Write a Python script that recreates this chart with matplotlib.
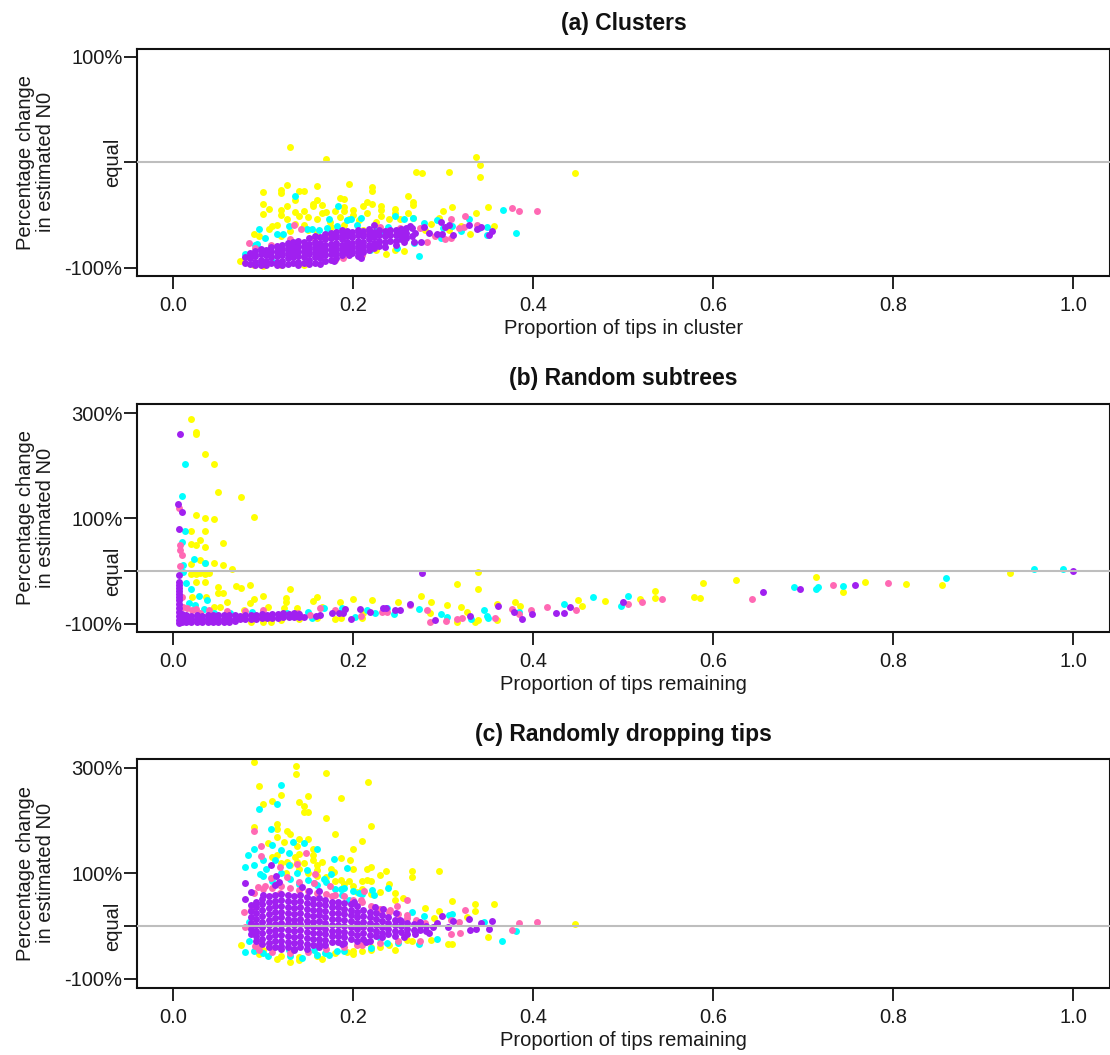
import matplotlib
matplotlib.use("Agg")
import matplotlib.pyplot as plt
from matplotlib.transforms import blended_transform_factory

plt.rcParams['font.family'] = ['Liberation Sans', 'DejaVu Sans']

YELLOW = '#FFFF00'
CYAN = '#00FFFF'
PINK = '#FF69B4'
PURPLE = '#A020F0'

# ---------------- (a) Clusters ----------------
a_yellow_x = [.130,.170,.270,.276,.306,.336,.341,.341,.446,.100,.100,.106,.100,.120,.120,.126,.126,.120,.120,.140,.145,.135,.160,.155,.155,.160,.165,.195,.221,.221,.185,.190,.211,.215,.221,.231,.231,.261,.266,.266,.246,.246,.261,.300,.310,.336,.350,.135,.145,.140,.150,.165,.170,.180,.190,.190,.200,.200,.215,.231,.185,.195,.206,.160,.126,.115,.110,.106,.089,.095,.135,.145,.174,.190,.225,.240,.252,.266,.295,.356,.330,.074,.100,.145,.089,.236,.256,.246,.225,.120,.286,.306,.150,.175,.211,.130,.160,.120,.320,.280]
a_yellow_y = [15,3,-9,-10,-9,5,-2,-14,-10,-28,-39,-44,-49,-26,-29,-21,-41,-45,-50,-27,-27,-36,-22,-39,-41,-36,-40,-20,-23,-27,-34,-35,-41,-37,-39,-41,-45,-32,-37,-40,-44,-48,-48,-46,-42,-48,-42,-47,-46,-51,-52,-48,-47,-46,-42,-46,-45,-50,-48,-51,-52,-54,-55,-54,-54,-59,-60,-63,-68,-70,-58,-59,-56,-59,-56,-54,-54,-53,-53,-60,-68,-93,-98,-97,-97,-87,-84,-83,-83,-97,-58,-64,-64,-61,-64,-65,-66,-70,-60,-64]

a_cyan_x = [.135,.183,.173,.193,.197,.208,.246,.256,.266,.095,.366,.381,.273,.278,.293,.328,.348,.348,.154,.149,.162,.171,.182,.204,.128,.115,.122,.102,.091,.080,.267,.297,.219,.249,.238,.226,.097,.111,.137,.093,.170,.190,.210,.230,.250,.310,.320,.340,.300]
a_cyan_y = [-32,-41,-54,-55,-54,-53,-51,-54,-53,-63,-45,-67,-89,-57,-55,-54,-61,-69,-63,-63,-64,-62,-60,-59,-60,-68,-68,-72,-78,-87,-76,-72,-83,-81,-61,-62,-95,-94,-75,-77,-68,-66,-66,-68,-70,-60,-65,-62,-62]

a_pink_x = [.084,.134,.142,.376,.384,.404,.324,.309,.317,.308,.302,.291,.282,.252,.239,.230,.189,.193,.211,.189,.174,.156,.130,.108,.091,.086,.337,.323,.274,.150,.180,.210]
a_pink_y = [-76,-59,-63,-43,-46,-46,-51,-54,-62,-72,-73,-70,-75,-62,-65,-61,-91,-86,-67,-67,-70,-72,-73,-78,-81,-89,-59,-61,-62,-95,-92,-88]

a_purple_x = [.223,.263,.278,.297,.302,.306,.284,.293,.299,.311,.329,.337,.342,.354,.351,.269,.275,.267,.256,.195,.208,.179]
a_purple_y = [-59,-60,-61,-56,-61,-59,-67,-68,-68,-69,-59,-63,-61,-65,-69,-67,-75,-75,-75,-88,-91,-93]
# the thick band, column by column
a_band_x = [.079,.085,.091,.097,.103,.109,.115,.121,.127,.133,.139,.145,.151,.157,.163,.169,.175,.181,.187,.193,.199,.205,.211,.217,.223,.229,.235,.241,.247,.253,.259,.265]
a_band_y = [[-90,-95],[-86,-91,-96],[-84,-89,-94,-97],[-82,-87,-92,-97],[-83,-88,-93,-97],[-80,-85,-90,-95],[-79,-84,-89,-94,-97],[-78,-83,-88,-93,-97],[-76,-81,-86,-91,-96],[-75,-80,-85,-90,-95],[-74,-79,-84,-89,-94,-97],[-75,-80,-85,-90,-95],[-72,-77,-82,-87,-92,-96],[-70,-75,-80,-85,-90,-95],[-71,-76,-81,-86,-91,-96],[-68,-73,-78,-83,-88,-93],[-67,-72,-77,-82,-87,-92],[-66,-71,-76,-81,-86,-91],[-64,-69,-73,-78,-83,-88],[-65,-70,-75,-80,-85],[-66,-71,-76,-81,-86],[-64,-69,-74,-79,-84,-89],[-65,-70,-75,-80,-85],[-63,-68,-73,-78,-83],[-66,-71,-76,-81],[-64,-69,-74,-79],[-65,-70,-75,-80],[-64,-69,-74],[-64,-69,-74,-78],[-63,-68,-73],[-62,-67,-72],[-62,-70]]

# ---------------- (b) Random subtrees ----------------
b_yellow_x = [.020,.025,.025,.035,.045,.050,.075,.025,.035,.045,.090,.020,.035,.030,.055,.020,.025,.035,.020,.030,.035,.045,.055,.065,.020,.025,.030,.035,.040,.035,.025,.070,.075,.085,.050,.050,.055,.100,.130,.085,.090,.125,.125,.105,.155,.160,.185,.200,.221,.250,.275,.286,.021,.036,.045,.060,.052,.078,.123,.137,.165,.186,.211,.086,.108,.180,.210,
 .315,.339,.339,.304,.320,.326,.285,.339,.335,.360,.360,.380,.385,.450,.454,.480,.519,.535,.535,.579,.585,.589,.625,.714,.744,.769,.814,.854,.930,.315,.100,.120,.140,.160]
b_yellow_y = [289,265,260,223,203,151,141,107,101,99,103,77,77,59,53,52,49,46,13,20,16,15,11,4,-6,-6,-4,-6,-4,-20,-20,-28,-32,-26,-31,-42,-42,-47,-34,-61,-53,-51,-58,-68,-57,-50,-59,-53,-55,-59,-47,-59,-49,-49,-68,-58,-68,-75,-71,-71,-68,-90,-80,-96,-96,-92,-90,
 -25,-2,-35,-64,-68,-77,-79,-93,-97,-93,-63,-58,-66,-56,-66,-57,-53,-38,-52,-50,-52,-23,-18,-12,-40,-21,-25,-26,-4,-97,-96,-94,-92,-90]

b_cyan_x = [.013,.010,.013,.010,.023,.035,.011,.011,.014,.019,.028,.037,.017,.034,.024,.087,.126,.150,.167,.187,.215,.237,.245,.273,.063,.045,.154,.202,.224,
 .297,.304,.331,.345,.348,.350,.384,.434,.466,.497,.505,.690,.714,.717,.744,.859,.957,.989]
b_cyan_y = [204,143,76,56,22,15,12,-1,-22,-35,-47,-56,-61,-72,-65,-77,-80,-77,-71,-71,-74,-71,-82,-73,-80,-80,-90,-87,-80,
 -82,-87,-91,-74,-85,-89,-77,-63,-50,-67,-47,-31,-35,-31,-29,-13,4,4]

b_pink_x = [.007,.007,.010,.007,.006,.010,.021,.011,.030,.163,.180,.208,.152,.232,.263,.282,.139,.093,.237,.015,.025,.040,.060,.080,.100,
 .303,.315,.321,.357,.376,.384,.398,.415,.448,.505,.521,.543,.643,.733,.794,.285]
b_pink_y = [49,40,31,10,119,-49,-74,-68,-80,-71,-74,-85,-84,-77,-65,-74,-80,-87,-77,-70,-72,-74,-76,-76,-75,
 -95,-91,-89,-89,-72,-81,-75,-68,-74,-63,-59,-53,-54,-26,-23,-97]

b_purple_x = [.007,.005,.009,.006,.276,.263,.252,.246,.236,.233,.219,.207,.191,.197,.189,.184,.176,.163,.158,.145,
 .291,.330,.361,.379,.388,.399,.425,.434,.441,.500,.655,.697,.758,1.000]
b_purple_y = [261,127,113,80,-4,-63,-74,-75,-71,-71,-77,-72,-73,-91,-79,-80,-80,-84,-85,-87,
 -93,-85,-67,-77,-91,-81,-80,-79,-68,-58,-39,-35,-26,0]
b_band_x = [.006,.010,.014,.020,.026,.032,.038,.044,.050,.056,.062,.068,.074,.080,.086,.092,.098,.104,.110,.116,.122,.128,.134,.140]
b_band_y = [[-8,-20,-26,-32,-38,-44,-50,-56,-62,-70,-78,-86,-94,-98],[-82,-90,-97],[-84,-91,-97],[-85,-92,-97],[-84,-91,-97],[-85,-92,-97],[-83,-91,-97],[-84,-92,-97],[-84,-92,-96],[-83,-91,-96],[-84,-92,-96],[-83,-91,-95],[-85,-92],[-84,-91],[-84,-92],[-84,-91],[-82,-90],[-83,-90],[-81,-89],[-82,-89],[-80,-88],[-81,-88],[-80,-87],[-81,-87]]

# ---------------- (c) Randomly dropping tips ----------------
c_yellow_x = [.090,.136,.136,.170,.216,.095,.120,.150,.110,.100,.140,.145,.150,.145,.186,.170,.220,.180,.090,.115,.115,.126,.130,.115,.140,.150,.210,.200,.105,.123,.137,.140,.155,.155,.115,.155,.165,.186,.196,.200,.215,.220,.230,.236,.265,.265,.295,.210,.215,.220,.240,.230,.246,.255,.246,.280,.310,.335,.335,.356,.295,.290,.326,.446,.075,.095,.115,.130,.140,.165,.200,.210,.220,.230,.246,.265,.286,.305,.310,.350,.160,.175,.186,.195,.178,.189,.204,.137,.126,.160,.193,
 .110,.120,.130,.140,.150,.160,.170,.180,.190,.200,.210,.220,.125,.135,.145,.160,.100,.120,.140,.160,.180,.200,.220,.240,.260]
c_yellow_y = [312,303,288,290,274,266,249,246,237,232,235,228,217,217,242,204,190,175,187,194,184,180,174,168,165,165,161,147,157,160,151,137,146,135,135,125,122,129,126,108,109,111,97,104,104,92,104,85,87,85,80,64,63,53,49,34,48,42,28,41,28,15,16,4,-36,-53,-63,-69,-65,-63,-53,-47,-46,-41,-46,-28,-27,-34,-34,-22,106,109,87,85,103,72,65,122,122,-55,-49,
 130,120,115,108,100,95,92,85,80,75,70,60,100,130,120,115,-45,-58,-60,-58,-52,-48,-40,-36,-26]

c_cyan_x = [.120,.115,.095,.108,.133,.145,.160,.090,.083,.100,.090,.080,.096,.103,.110,.120,.128,.113,.128,.137,.149,.178,.193,.175,.167,.156,.186,.221,.223,.238,.206,.187,.195,.237,.250,.273,.293,.365,.381,.278,.265,.306,.310,.345,.084,.084,.080,.090,.105,.128,.143,.173,.169,.182,.156,.230,
 .120,.130,.140,.150,.160,.170,.180,.190,.200,.210,.100,.110,.100,.130,.160,.190,.220]
c_cyan_y = [268,231,222,184,159,158,147,147,135,125,116,111,98,108,153,144,139,125,116,100,106,128,110,98,89,81,70,69,58,72,62,59,49,-33,-33,-34,-25,-28,-10,18,27,21,23,8,8,-28,-49,-47,-58,-46,-61,-55,-52,-47,-46,-23,
 100,90,80,88,78,84,70,72,66,60,95,85,-52,-58,-56,-48,-42]

c_pink_x = [.090,.097,.097,.147,.137,.157,.156,.119,.109,.126,.140,.174,.094,.102,.212,.260,.324,.384,.404,.376,.319,.309,.078,.086,.080,.091,.204,.274,.260,.249,.241,.208,.176,.119,.094,.308,.317,
 .090,.100,.110,.120,.130,.140,.150,.160,.170,.180,.190,.200,.210,.220,.230,.240,.250,.260,.270,.280,.095,.110,.130,.150,.170,.190,.210,.230,.250]
c_pink_y = [180,151,132,138,117,98,81,112,91,92,84,75,73,75,66,49,31,5,8,-8,-14,-16,26,30,-3,-39,-36,-28,21,37,30,49,56,62,-36,11,8,
 62,70,72,75,72,68,66,62,60,58,56,50,45,38,32,26,22,15,12,5,-45,-50,-52,-50,-44,-40,-36,-32,-28]

c_purple_x = [.109,.079,.114,.117,.113,.086,.080,.100,.143,.151,.162,.201,.224,.233,.299,.311,.328,.354,.342,.351,.336,.330,.305,.284,.269,.256,.214,.187,.293,.274,.252,.247]
c_purple_y = [116,81,94,84,77,65,51,59,73,66,66,46,36,32,18,10,14,10,6,-6,-6,-8,-3,-13,-15,-21,-31,-35,5,8,11,24]
c_band_x = [.086,.092,.099,.106,.113,.120,.127,.134,.141,.148,.155,.162,.169,.176,.183,.190,.197,.204,.211,.218,.225,.232,.239,.246,.253,.260,.267,.274,.281,.288]
c_band_y = [[40,28,17,6,-5,-16],[46,35,24,13,2,-9,-20,-28],[52,41,30,19,8,-3,-14,-25,-34],[56,45,34,23,12,1,-10,-21,-32,-40],[59,48,37,26,15,4,-7,-18,-29,-40],[60,49,38,27,16,5,-6,-17,-28,-39,-44],[58,47,36,25,14,3,-8,-19,-30,-41],[56,45,34,23,12,1,-10,-21,-32,-43,-46],[58,47,36,25,14,3,-8,-19,-30,-41],[54,43,32,21,10,-1,-12,-23,-34,-44],[52,41,30,19,8,-3,-14,-25,-36],[53,42,31,20,9,-2,-13,-24,-35,-40],[50,39,28,17,6,-5,-16,-27,-36],[46,35,24,13,2,-9,-20,-31],[46,35,24,13,2,-9,-20,-31],[44,33,22,11,0,-11,-22,-32],[42,31,20,9,-2,-13,-24],[38,27,16,5,-6,-17,-28],[30,19,8,-3,-14,-25],[27,16,5,-6,-17,-28],[24,13,2,-9,-20],[20,9,-2,-13,-22],[17,6,-5,-16],[12,1,-10,-20],[10,-1,-12],[6,-5,-15],[3,-8],[2,-8],[-1,-9],[-3]]


def add_band(xs, ys, band_x, band_y):
    # purple columns joined on to the loose points
    out_x = list(xs)
    out_y = list(ys)
    for x, col in zip(band_x, band_y):
        out_x += [x] * len(col)
        out_y += col
    return out_x, out_y


W, H = 1110, 1055
LEFT, RIGHT = 137, 1109.5
XTICKS = [0, 0.2, 0.4, 0.6, 0.8, 1.0]

panels = [
    ('(a) Clusters', 'Proportion of tips in cluster', 48.5, 276, (-107.6, 108),
     [-100, 0, 100], ['-100%', '', '100%'],
     [(a_yellow_x, a_yellow_y, YELLOW), (a_cyan_x, a_cyan_y, CYAN), (a_pink_x, a_pink_y, PINK),
      (*add_band(a_purple_x, a_purple_y, a_band_x, a_band_y), PURPLE)]),
    ('(b) Random subtrees', 'Proportion of tips remaining', 404, 631.5, (-115, 317.5),
     [-100, 0, 100, 300], ['-100%', '', '100%', '300%'],
     [(b_yellow_x, b_yellow_y, YELLOW), (b_cyan_x, b_cyan_y, CYAN), (b_pink_x, b_pink_y, PINK),
      (*add_band(b_purple_x, b_purple_y, b_band_x, b_band_y), PURPLE)]),
    ('(c) Randomly dropping tips', 'Proportion of tips remaining', 759, 987.5, (-117, 317),
     [-100, 0, 100, 300], ['-100%', '', '100%', '300%'],
     [(c_yellow_x, c_yellow_y, YELLOW), (c_cyan_x, c_cyan_y, CYAN), (c_pink_x, c_pink_y, PINK),
      (*add_band(c_purple_x, c_purple_y, c_band_x, c_band_y), PURPLE)]),
]

fig = plt.figure(figsize=(W / 100, H / 100), dpi=100)

for title, xlabel, top, bottom, ylim, yticks, ylabels, layers in panels:
    ax = fig.add_axes([LEFT / W, 1 - bottom / H, (RIGHT - LEFT) / W, (bottom - top) / H])
    for xs, ys, colour in layers:
        ax.scatter(xs, ys, s=25, color=colour, linewidths=0, clip_on=True, zorder=2)
    ax.axhline(0, color='#BEBEBE', lw=1.5, zorder=3)

    ax.set_xlim(-0.0405, 1.0405)
    ax.set_ylim(*ylim)
    ax.set_xticks(XTICKS)
    ax.set_xticklabels(['0.0', '0.2', '0.4', '0.6', '0.8', '1.0'])
    ax.set_yticks(yticks)
    ax.set_yticklabels(ylabels)
    ax.tick_params(axis='both', length=9.5, width=1.3, labelsize=14.5, color='#111111', labelcolor='#1a1a1a')
    ax.tick_params(axis='x', pad=5)
    ax.tick_params(axis='y', pad=1)
    for spine in ax.spines.values():
        spine.set_linewidth(1.5)
        spine.set_color('#111111')

    trans = blended_transform_factory(fig.transFigure, ax.transData)
    fig.text(113 / W, 0, 'equal', transform=trans, rotation=90, ha='center', va='center',
             fontsize=14.5, color='#1a1a1a')
    mid = 1 - (top + bottom) / 2 / H
    fig.text(35.5 / W, mid, 'Percentage change\nin estimated N0', rotation=90, ha='center', va='center',
             fontsize=14.5, color='#1a1a1a', linespacing=1.05)
    fig.text(623.5 / W, 1 - (bottom + 53) / H, xlabel, ha='center', va='center', fontsize=14.5, color='#1a1a1a')
    fig.text(623.5 / W, 1 - (top - 25) / H, title, ha='center', va='center', fontsize=16.5,
             fontweight='bold', color='#111111')

plt.savefig('out.png', dpi=100)
plt.close()
